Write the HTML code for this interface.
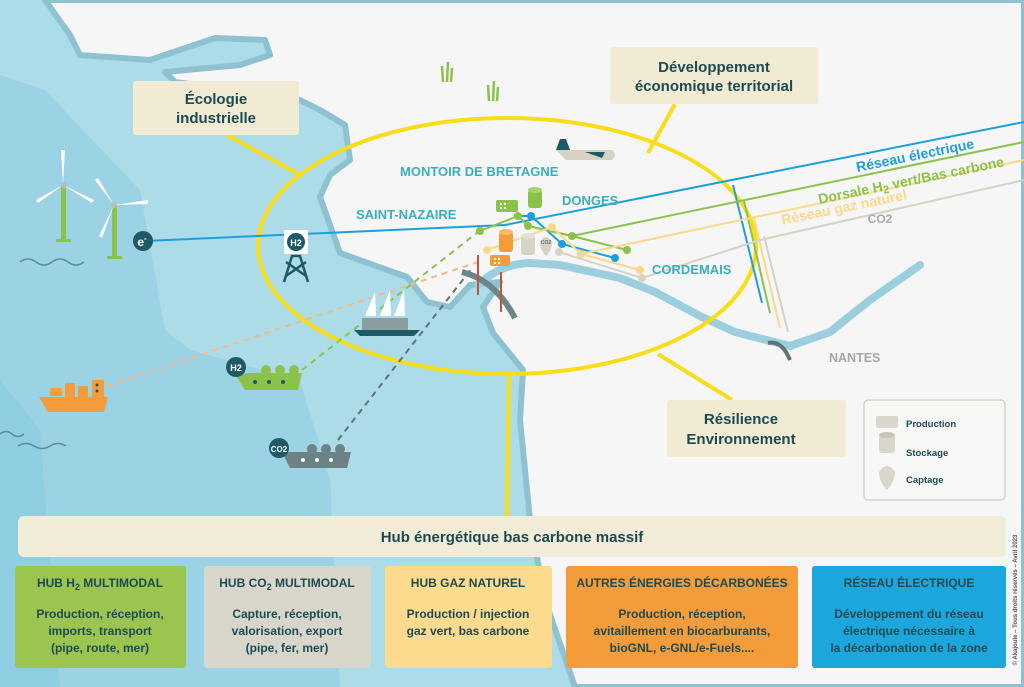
<!DOCTYPE html>
<html><head><meta charset="utf-8"><style>
html,body{margin:0;padding:0;width:1024px;height:687px;overflow:hidden;background:#f6f6f6}
svg{display:block}
text{font-family:"Liberation Sans",sans-serif;font-weight:bold}
</style></head><body>
<svg width="1024" height="687" viewBox="0 0 1024 687" xmlns="http://www.w3.org/2000/svg">
<rect x="0" y="0" width="1024" height="687" fill="#acdce8"/>
<path d="M0,75 L45,90 L140,190 L165,330 L190,350 L300,380 L330,480 L340,687 L0,687 Z" fill="#9bd3e4"/>
<path d="M0,380 L40,430 L60,687 L0,687 Z" fill="#8fcde0"/>
<path d="M45,0 L1024,0 L1024,687 L575,687 L545,600 L530,520 L520,420 L523,370 L493,333 L483,307 L500,282 L470,285 L450,307 L427,302 L407,277 L340,253 L320,197 L330,175 L350,160 L345,125 L320,110 L300,100 L175,82 L165,72 L240,65 L270,55 L265,40 L215,38 L150,60 L80,55 L70,35 Z" fill="#f6f6f6" stroke="#8ec2d1" stroke-width="6" stroke-linejoin="round"/>
<path d="M478,285 Q500,264 530,263 L560,265 L620,278 L655,292 L700,316 L735,332 L790,346 L830,332 L870,300 L920,265" fill="none" stroke="#9ccfdd" stroke-width="8" stroke-linecap="round" stroke-linejoin="round"/>
<ellipse cx="507" cy="246" rx="249" ry="128" fill="none" stroke="#fadd19" stroke-width="4"/>
<line x1="225" y1="134" x2="302" y2="176" stroke="#fadd19" stroke-width="4"/>
<line x1="675" y1="104" x2="648" y2="153" stroke="#fadd19" stroke-width="4"/>
<line x1="732" y1="400" x2="658" y2="354" stroke="#fadd19" stroke-width="4"/>
<line x1="509" y1="373" x2="507" y2="517" stroke="#fadd19" stroke-width="4"/>
<g fill="none" stroke-width="2">
<polyline points="145,241 505,225 1024,122" stroke="#1d9fdb"/>
<polyline points="733,185 762,303" stroke="#1d9fdb"/>
<polyline points="480,231 518,216 528,226 572,236 1024,142" stroke="#8bc34a"/>
<polyline points="518,216 531,216 562,244 615,258" stroke="#1d9fdb"/>
<polyline points="528,226 572,236 627,250" stroke="#8bc34a"/>
<polyline points="744,201 770,313" stroke="#8bc34a"/>
<polyline points="487,250 552,227 581,254 640,270" stroke="#fcd88a"/>
<polyline points="581,254 1024,160" stroke="#fcd88a"/>
<polyline points="754,218 780,328" stroke="#fcd88a"/>
<polyline points="559,252 642,278" stroke="#d6d2c6"/>
<polyline points="642,278 760,240 1024,180" stroke="#d6d2c6"/>
<polyline points="764,236 788,332" stroke="#d6d2c6"/>
</g>
<g>
<circle cx="480" cy="231" r="4" fill="#8bc34a"/><circle cx="518" cy="216" r="4" fill="#8bc34a"/><circle cx="528" cy="226" r="4" fill="#8bc34a"/><circle cx="572" cy="236" r="4" fill="#8bc34a"/><circle cx="627" cy="250" r="4" fill="#8bc34a"/>
<circle cx="531" cy="216" r="4" fill="#1d9fdb"/><circle cx="562" cy="244" r="4" fill="#1d9fdb"/><circle cx="615" cy="258" r="4" fill="#1d9fdb"/>
<circle cx="487" cy="250" r="4" fill="#fcd88a"/><circle cx="552" cy="227" r="4" fill="#fcd88a"/><circle cx="581" cy="254" r="4" fill="#fcd88a"/><circle cx="640" cy="270" r="4" fill="#fcd88a"/>
<circle cx="559" cy="252" r="4" fill="#d6d2c6"/><circle cx="642" cy="278" r="4" fill="#d6d2c6"/>
</g>
<g fill="none" stroke-width="2" stroke-dasharray="6,5">
<line x1="108" y1="386" x2="478" y2="262" stroke="#f6b98a"/>
<line x1="302" y1="370" x2="478" y2="232" stroke="#8bc34a"/>
<line x1="338" y1="440" x2="472" y2="268" stroke="#5f7378"/>
</g>
<text x="916" y="160" font-size="14" fill="#1d9fdb" text-anchor="middle" transform="rotate(-11.5 916 160)">Réseau électrique</text>
<text x="912" y="185" font-size="14" fill="#8bc34a" text-anchor="middle" transform="rotate(-11.5 912 185)">Dorsale H<tspan font-size="11" dy="3">2</tspan><tspan dy="-3"> vert/Bas carbone</tspan></text>
<text x="845" y="212" font-size="14" fill="#fcd88a" text-anchor="middle" transform="rotate(-11.5 845 212)">Réseau gaz naturel</text>
<text x="880" y="223" font-size="12" fill="#a9a9a9" text-anchor="middle">CO2</text>
<rect x="496" y="200" width="22" height="12" rx="2" fill="#8bc34a"/>
<rect x="500" y="203" width="2" height="2" fill="#fff"/><rect x="504" y="203" width="2" height="2" fill="#fff"/><rect x="500" y="207" width="2" height="2" fill="#fff"/><rect x="504" y="207" width="2" height="2" fill="#fff"/>
<rect x="528" y="190" width="14" height="18" rx="3" fill="#8bc34a"/><ellipse cx="535" cy="190" rx="7" ry="3" fill="#a6d46a"/>
<rect x="499" y="232" width="14" height="20" rx="3" fill="#f39c39"/><ellipse cx="506" cy="232" rx="7" ry="3" fill="#f7b76e"/>
<rect x="490" y="255" width="20" height="11" rx="2" fill="#f39c39"/>
<rect x="494" y="258" width="2" height="2" fill="#fff"/><rect x="498" y="258" width="2" height="2" fill="#fff"/><rect x="494" y="262" width="2" height="2" fill="#fff"/><rect x="498" y="262" width="2" height="2" fill="#fff"/>
<rect x="521" y="236" width="14" height="19" rx="3" fill="#d6d2c6"/><ellipse cx="528" cy="236" rx="7" ry="3" fill="#e3e0d7"/>
<path d="M540,242 Q546,232 552,242 Q552,250 546,256 Q540,250 540,242 Z" fill="#d6d2c6"/>
<text x="546" y="244" font-size="5" fill="#5f7378" text-anchor="middle">CO2</text>
<path d="M462,272 Q495,280 515,318" fill="none" stroke="#6c8589" stroke-width="6"/>
<line x1="478" y1="255" x2="478" y2="295" stroke="#c2543a" stroke-width="2"/>
<line x1="501" y1="272" x2="501" y2="312" stroke="#c2543a" stroke-width="2"/>
<path d="M768,343 Q782,340 790,360" fill="none" stroke="#5f7378" stroke-width="4"/>
<rect x="284" y="230" width="24" height="24" rx="2" fill="#fff"/>
<circle cx="296" cy="242" r="9" fill="#1d5a66"/>
<text x="296" y="246" font-size="9" fill="#fff" text-anchor="middle">H2</text>
<path d="M284,282 L292,256 L300,256 L308,282 M286,276 L306,262 M306,276 L286,262" stroke="#1d5a66" stroke-width="2.5" fill="none"/>
<g fill="#fff">
<rect x="61" y="185" width="5" height="55" fill="#8bc34a"/><rect x="56" y="239" width="15" height="3" fill="#8bc34a"/>
<path d="M63,185 L61,150 L65,150 Z M63,185 L36,200 L38,203 Z M63,185 L94,200 L92,203 Z"/>
<circle cx="64" cy="185" r="3" fill="#bbb"/>
<rect x="112" y="205" width="5" height="52" fill="#8bc34a"/><rect x="107" y="256" width="15" height="3" fill="#8bc34a"/>
<path d="M114,205 L95,180 L98,178 Z M114,205 L148,200 L148,204 Z M114,205 L102,238 L99,236 Z"/>
<circle cx="114" cy="205" r="3" fill="#bbb"/>
</g>
<circle cx="143" cy="241" r="10" fill="#1d5a66"/><text x="142" y="246" font-size="12" fill="#fff" text-anchor="middle">e<tspan font-size="8" dy="-5">-</tspan></text>
<path d="M20,262 q8,-6 16,0 t16,0 t16,0 t16,0 M0,434 q6,-5 12,0 t12,0 M18,446 q8,-5 16,0 t16,0 t16,0" stroke="#5a8c9a" stroke-width="1.5" fill="none"/>
<path d="M39,397 L108,397 L104,412 L48,412 Z" fill="#f39c39"/>
<rect x="50" y="388" width="12" height="8" fill="#f39c39"/><rect x="65" y="383" width="10" height="14" fill="#f39c39"/><rect x="78" y="386" width="10" height="11" fill="#f39c39"/><rect x="92" y="380" width="12" height="17" fill="#f39c39"/>
<circle cx="97" cy="385" r="1.5" fill="#1d5a66"/><circle cx="97" cy="391" r="1.5" fill="#1d5a66"/>
<path d="M234,373 L302,373 L298,390 L245,390 Z" fill="#8bc34a"/>
<circle cx="266" cy="370" r="5" fill="#8bc34a"/><circle cx="280" cy="370" r="5" fill="#8bc34a"/><circle cx="294" cy="370" r="5" fill="#8bc34a"/>
<circle cx="255" cy="382" r="2" fill="#1d5a66"/><circle cx="269" cy="382" r="2" fill="#1d5a66"/><circle cx="283" cy="382" r="2" fill="#1d5a66"/>
<circle cx="236" cy="367" r="10" fill="#1d5a66"/><text x="236" y="371" font-size="9" fill="#fff" text-anchor="middle">H2</text>
<path d="M282,452 L351,452 L347,468 L290,468 Z" fill="#6d8285"/>
<circle cx="312" cy="449" r="5" fill="#6d8285"/><circle cx="326" cy="449" r="5" fill="#6d8285"/><circle cx="340" cy="449" r="5" fill="#6d8285"/>
<circle cx="303" cy="460" r="2" fill="#fff"/><circle cx="317" cy="460" r="2" fill="#fff"/><circle cx="331" cy="460" r="2" fill="#fff"/>
<circle cx="279" cy="448" r="10" fill="#1d5a66"/><text x="279" y="452" font-size="8" fill="#fff" text-anchor="middle">CO2</text>
<path d="M365,316 L375,292 L376,316 Z M380,316 L390,290 L391,316 Z M394,316 L404,290 L405,316 Z" fill="#fff"/>
<path d="M354,330 L420,330 L414,336 L360,336 Z" fill="#1d5a66"/><rect x="362" y="318" width="46" height="12" fill="#8a9ea2"/>
<path d="M556,150 L612,150 Q618,155 612,160 L566,160 Z" fill="#d6d2c6"/>
<path d="M556,150 L560,139 L566,139 L570,150 Z M585,152 L605,152 L602,158 Z" fill="#1d5a66"/>
<g stroke="#8bc34a" stroke-width="2.5"><path d="M443,82 L442,66 M447,82 L448,62 M451,82 L452,68"/><path d="M489,101 L488,85 M493,101 L494,81 M497,101 L498,87"/></g>
<g fill="#3aaebd" font-size="13">
<text x="400" y="176">MONTOIR DE BRETAGNE</text>
<text x="356" y="219">SAINT-NAZAIRE</text>
<text x="562" y="205">DONGES</text>
<text x="652" y="274">CORDEMAIS</text>
</g>
<text x="829" y="362" font-size="12.5" fill="#a6a6a6">NANTES</text>
<g font-size="15" fill="#1d4a52" text-anchor="middle">
<rect x="133" y="81" width="166" height="54" rx="3" fill="#f1ebd3"/>
<text x="216" y="104">Écologie</text><text x="216" y="123">industrielle</text>
<rect x="610" y="47" width="208" height="57" rx="3" fill="#f1ebd3"/>
<text x="714" y="72">Développement</text><text x="714" y="91">économique territorial</text>
<rect x="667" y="400" width="179" height="57" rx="3" fill="#f1ebd3"/>
<text x="741" y="424">Résilience</text><text x="741" y="444">Environnement</text>
</g>
<rect x="864" y="400" width="141" height="100" rx="4" fill="#f7f7f5" stroke="#c8c2b4"/>
<rect x="876" y="416" width="22" height="12" rx="2" fill="#d9d6cc"/>
<rect x="879" y="435" width="16" height="18" rx="3" fill="#d9d6cc"/><ellipse cx="887" cy="435" rx="8" ry="3" fill="#c8c4b8"/>
<path d="M879,472 Q887,460 895,472 Q895,482 887,490 Q879,482 879,472 Z" fill="#d9d6cc"/>
<g font-size="9.5" fill="#1d4a52"><text x="906" y="427">Production</text><text x="906" y="456">Stockage</text><text x="906" y="483">Captage</text></g>
<rect x="18" y="516" width="988" height="41" rx="6" fill="#f1ecd8"/>
<text x="512" y="542" font-size="15" fill="#1d4a52" text-anchor="middle">Hub énergétique bas carbone massif</text>
<g font-size="12" text-anchor="middle">
<rect x="15" y="566" width="171" height="102" rx="3" fill="#9bc54e"/>
<text x="100" y="587" fill="#1d4a52">HUB H<tspan font-size="9" dy="3">2</tspan><tspan dy="-3"> MULTIMODAL</tspan></text>
<g fill="#1d4a52"><text x="100" y="618">Production, réception,</text><text x="100" y="635">imports, transport</text><text x="100" y="652">(pipe, route, mer)</text></g>
<rect x="204" y="566" width="167" height="102" rx="3" fill="#d8d6cb"/>
<text x="287" y="587" fill="#1d4a52">HUB CO<tspan font-size="9" dy="3">2</tspan><tspan dy="-3"> MULTIMODAL</tspan></text>
<g fill="#1d4a52"><text x="287" y="618">Capture, réception,</text><text x="287" y="635">valorisation, export</text><text x="287" y="652">(pipe, fer, mer)</text></g>
<rect x="385" y="566" width="167" height="102" rx="3" fill="#fddb8e"/>
<text x="468" y="587" fill="#1d4a52">HUB  GAZ NATUREL</text>
<g fill="#1d4a52"><text x="468" y="618">Production / injection</text><text x="468" y="635">gaz vert, bas carbone</text></g>
<rect x="566" y="566" width="232" height="102" rx="3" fill="#f39c39"/>
<text x="682" y="587" fill="#1d4a52">AUTRES ÉNERGIES DÉCARBONÉES</text>
<g fill="#1d4a52"><text x="682" y="618">Production, réception,</text><text x="682" y="635">avitaillement en biocarburants,</text><text x="682" y="652">bioGNL, e-GNL/e-Fuels....</text></g>
<rect x="812" y="566" width="194" height="102" rx="3" fill="#1ba7dc"/>
<text x="909" y="587" fill="#1d4a52">RÉSEAU ÉLECTRIQUE</text>
<g fill="#1d4a52"><text x="909" y="618">Développement du réseau</text><text x="909" y="635">électrique nécessaire à</text><text x="909" y="652">la décarbonation de la zone</text></g>
</g>
<text x="1017" y="600" font-size="6" fill="#555" font-weight="normal" text-anchor="middle" transform="rotate(-90 1017 600)">© Akajoule – Tous droits réservés – Avril 2023</text>
</svg>
</body></html>
